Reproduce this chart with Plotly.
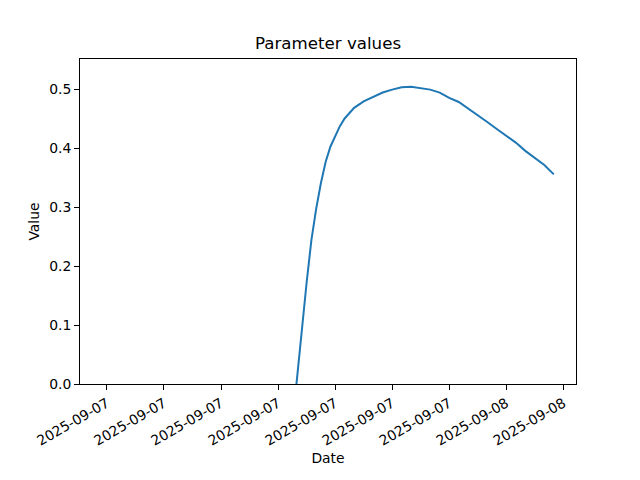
import plotly.graph_objects as go

times = [
    "2025-09-07 12:55", "2025-09-07 13:15", "2025-09-07 13:30", "2025-09-07 13:45",
    "2025-09-07 14:00", "2025-09-07 14:15", "2025-09-07 14:30", "2025-09-07 14:45",
    "2025-09-07 15:00", "2025-09-07 15:15", "2025-09-07 15:30", "2025-09-07 15:45",
    "2025-09-07 16:00", "2025-09-07 16:30",
    "2025-09-07 17:00", "2025-09-07 17:30", "2025-09-07 18:00", "2025-09-07 18:30",
    "2025-09-07 19:00", "2025-09-07 19:30", "2025-09-07 20:00", "2025-09-07 20:30",
    "2025-09-07 21:00", "2025-09-07 21:30", "2025-09-07 22:00", "2025-09-07 22:30",
    "2025-09-07 23:00", "2025-09-07 23:30", "2025-09-08 00:00", "2025-09-08 00:30",
    "2025-09-08 01:00", "2025-09-08 01:30", "2025-09-08 02:00", "2025-09-08 02:30",
]
values = [
    -0.016, 0.095, 0.172, 0.244,
    0.297, 0.341, 0.377, 0.403,
    0.422, 0.438, 0.451, 0.461,
    0.469, 0.480,
    0.488, 0.495, 0.500, 0.504,
    0.505, 0.503, 0.500, 0.495,
    0.486, 0.479, 0.468, 0.457,
    0.445, 0.433, 0.422, 0.410,
    0.396, 0.384, 0.372, 0.356,
]

x_range = ["2025-09-07 01:35", "2025-09-08 03:40"]
y_range = [0, 0.552]

font = "DejaVu Sans"
fs = 13.9

fig = go.Figure()
fig.add_trace(go.Scatter(x=times, y=values, mode="lines",
                         line=dict(color="#1f77b4", width=2), showlegend=False))

axis_common = dict(
    showline=True, linecolor="black", linewidth=1, mirror=True,
    ticks="outside", ticklen=5, tickwidth=1, tickcolor="black",
    showgrid=False, zeroline=False,
    tickfont=dict(family=font, size=fs, color="black"),
)

# page body has an 8px offset; margins compensate
fig.update_layout(
    width=640, height=480,
    paper_bgcolor="white", plot_bgcolor="white",
    margin=dict(l=72, r=72, t=51, b=104),
    font=dict(family=font, color="black"),
    title=dict(text="Parameter values", x=0.5, xanchor="center", xref="paper",
               y=1 - 35 / 480, yanchor="middle",
               font=dict(family=font, size=16.67, color="black")),
    xaxis=dict(type="date", range=x_range, tickformat="%Y-%m-%d",
               tick0="2025-09-07 03:00", dtick=3 * 3600 * 1000, tickangle=-30,
               title=dict(text="Date", standoff=5,
                          font=dict(family=font, size=fs, color="black")),
               **axis_common),
    yaxis=dict(range=y_range, dtick=0.1, tickformat=".1f",
               title=dict(text="Value", standoff=6,
                          font=dict(family=font, size=fs, color="black")),
               **axis_common),
)

fig.write_html("out.html")
